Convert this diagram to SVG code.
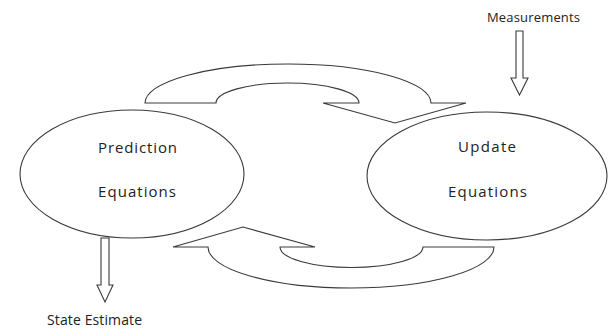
<svg xmlns="http://www.w3.org/2000/svg" width="609" height="331" viewBox="0 0 609 331">
<style>
.shape{fill:#fff;stroke:#3a3a3a;stroke-width:1.1;stroke-linejoin:miter}
.lbl{font-family:"Open Sans","DejaVu Sans",sans-serif;font-size:15px;fill:#222}
.sm{font-size:13px}
.md{font-size:14px}
</style>
<rect width="609" height="331" fill="#fff"/>
<g id="connectors">
<path id="top-arrow" class="shape" d="M145,103 A143,39 0 0 1 431,103 L466,103 L395,123 L323,103 L359,103 A71.5,20 0 0 0 216,103 Z"/>
<path id="bottom-arrow" class="shape" d="M494,247 A143,41 0 0 1 208,247 L173,247 L243,227 L315,247 L280,247 A71.5,20.5 0 0 0 423,247 Z"/>
<path id="measure-arrow" class="shape" d="M516,31 L523,31 L523,78 L528,78 L519.5,95 L511,78 L516,78 Z"/>
<path id="state-arrow" class="shape" d="M101,238 L109,238 L109,285 L113,285 L105,302 L97,285 L101,285 Z"/>
</g>
<g id="prediction">
<ellipse class="shape" cx="132" cy="174" rx="112" ry="64"/>
<text class="lbl" x="98" y="153" textLength="79" lengthAdjust="spacing">Prediction</text>
<text class="lbl" x="98" y="197" textLength="78" lengthAdjust="spacing">Equations</text>
</g>
<g id="update">
<ellipse class="shape" cx="487" cy="176" rx="120" ry="64"/>
<text class="lbl" x="458" y="152" textLength="58" lengthAdjust="spacing">Update</text>
<text class="lbl" x="448" y="197" textLength="79" lengthAdjust="spacing">Equations</text>
</g>
<g id="measurements">
<text class="lbl sm" x="487" y="22" textLength="93" lengthAdjust="spacing">Measurements</text>
</g>
<g id="state-estimate">
<text class="lbl md" x="47" y="325" textLength="95" lengthAdjust="spacing">State Estimate</text>
</g>
</svg>
